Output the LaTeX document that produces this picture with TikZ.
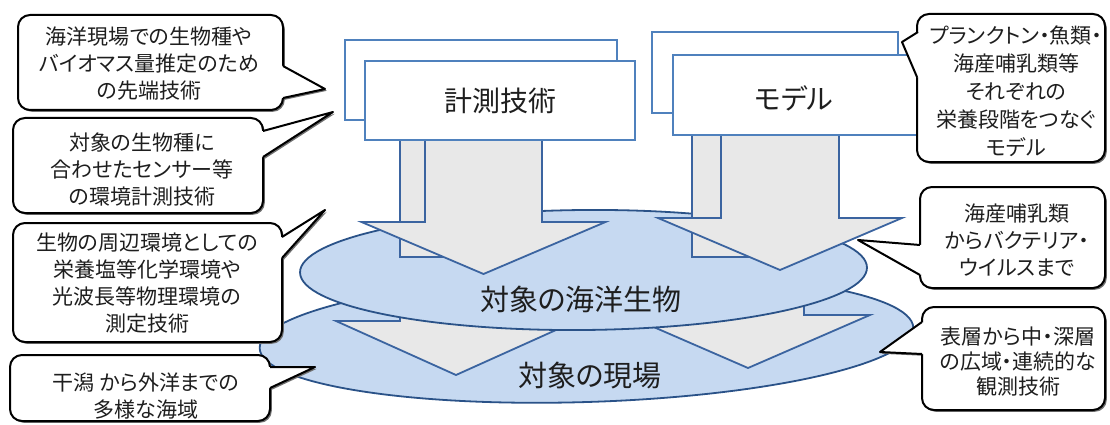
\documentclass[tikz,border=0pt]{standalone}
\usepackage{fontspec}
\setmainfont{Noto Sans CJK JP}[RawFeature=+palt]
\usetikzlibrary{calc}
\definecolor{boxblue}{HTML}{4F81BD}
\definecolor{ellfill}{HTML}{C6D9F1}
\definecolor{ellline}{HTML}{2A5288}
\definecolor{arrfill}{HTML}{E8E8E8}
\definecolor{arrline}{HTML}{3B64A0}
\definecolor{txt}{HTML}{1E1E1E}
\definecolor{shadowc}{HTML}{707070}
\tikzset{
  boxstyle/.style={draw=boxblue, line width=2.4pt, fill=white},
  arrstyle/.style={draw=arrline, line width=1.8pt, fill=arrfill, line join=miter},
  ellstyle/.style={draw=ellline, line width=1.8pt, fill=ellfill},
  bubline/.style={draw=black, line width=2pt, line join=round},
  bubtext/.style={align=center, font=\fontsize{21}{27}\selectfont, text=txt, inner sep=0pt},
  bigtext/.style={font=\fontsize{28}{32}\selectfont, text=txt, inner sep=0pt},
}
% #1 centre x, #2 top y, #3 shaft half width, #4 head y, #5 head half width, #6 tip y
\newcommand\myarrow[6]{%
  \filldraw[arrstyle] ({#1-#3},#2) -- ({#1+#3},#2) -- ({#1+#3},#4) -- ({#1+#5},#4)
    -- (#1,#6) -- ({#1-#5},#4) -- ({#1-#3},#4) -- cycle;}
% #1 top-left, #2 bottom-right, #3 attach 1, #4 tip, #5 attach 2
\newcommand\mybubble[5]{%
  \fill[shadowc, shift={(1.8,1.8)}, rounded corners=12pt] #1 rectangle #2;
  \fill[shadowc, shift={(1.8,1.8)}] #3 -- #4 -- #5 -- cycle;
  \filldraw[bubline, fill=white, rounded corners=12pt] #1 rectangle #2;
  \fill[white] #3 -- #4 -- #5 -- ($#1!0.5!#2$) -- cycle;
  \draw[bubline] #3 -- #4 -- #5;}
\begin{document}
\begin{tikzpicture}[x=1pt,y=-1pt]
\useasboundingbox (0,0) rectangle (1110,425);
% lower ellipse
\draw[ellstyle, rotate around={1.8:(586.5,338)}] (586.5,338) ellipse [x radius=327pt, y radius=64pt];
% back arrows (reach the lower ellipse)
\myarrow{456}{118}{56}{321}{120}{375}
\myarrow{748}{111}{56}{315}{122}{368}
% upper ellipse
\draw[ellstyle, rotate around={0.5:(583.5,270)}] (583.5,270) ellipse [x radius=283.5pt, y radius=60pt];
% back arrow shafts above the upper ellipse
\filldraw[arrstyle] (400,118) rectangle (512,257);
\filldraw[arrstyle] (692,111) rectangle (804,257);
% front arrows
\myarrow{483.5}{138}{58.5}{222}{122}{274}
\myarrow{780}{133}{59}{218}{122}{270}
% boxes
\draw[boxstyle] (345,40) rectangle (617,120);
\draw[boxstyle] (365,61) rectangle (635,140);
\draw[boxstyle] (652,32) rectangle (898,113);
\draw[boxstyle] (673,55) rectangle (917,135);
\node[bigtext] (keisoku) at (500,101) {計測技術};
\node[bigtext] (model) at (794,98) {モデル};
\node[bigtext, font=\fontsize{29}{32}\selectfont] (seibutsu) at (581,299) {対象の海洋生物};
\node[bigtext, font=\fontsize{29}{32}\selectfont] (genba) at (590,376) {対象の現場};
% callouts left
\mybubble{(18,15)}{(283,110)}{(283,66)}{(325,89)}{(283,98)}
\node[bubtext] (l1) at (149,63.5) {海洋現場での生物種や\\バイオマス量推定のため\\の先端技術};
\mybubble{(13,118)}{(263,213)}{(263,131)}{(333,112)}{(263,157)}
\node[bubtext] (l2) at (142,170) {対象の生物種に\\合わせたセンサー等\\の環境計測技術};
\mybubble{(13,223)}{(282,342)}{(282,237)}{(325,210)}{(282,258)}
\node[bubtext] (l3) at (147,283) {生物の周辺環境としての\\栄養塩等化学環境や\\光波長等物理環境の\\測定技術};
\mybubble{(10,355)}{(270,421)}{(270,367)}{(315,367)}{(270,388)}
\node[bubtext] (l4) at (146,396.5) {干潟 から外洋までの\\多様な海域};
% callouts right
\mybubble{(917,14)}{(1105,162)}{(918,32)}{(902,42)}{(917,77)}
\node[bubtext, font=\fontsize{21}{28}\selectfont] (r1) at (1016,91) {プランクトン・魚類・\\海産哺乳類等\\それぞれの\\栄養段階をつなぐ\\モデル};
\mybubble{(920,187)}{(1105,288)}{(920,245)}{(858,240)}{(920,275)}
\node[bubtext] (r2) at (1017,240) {海産哺乳類\\からバクテリア・\\ウイルスまで};
\mybubble{(922,307)}{(1105,410)}{(922,322)}{(880,352)}{(922,354)}
\node[bubtext, font=\fontsize{21}{25}\selectfont] (r3) at (1018,362) {表層から中・深層\\の広域・連続的な\\観測技術};
\end{tikzpicture}
\end{document}
